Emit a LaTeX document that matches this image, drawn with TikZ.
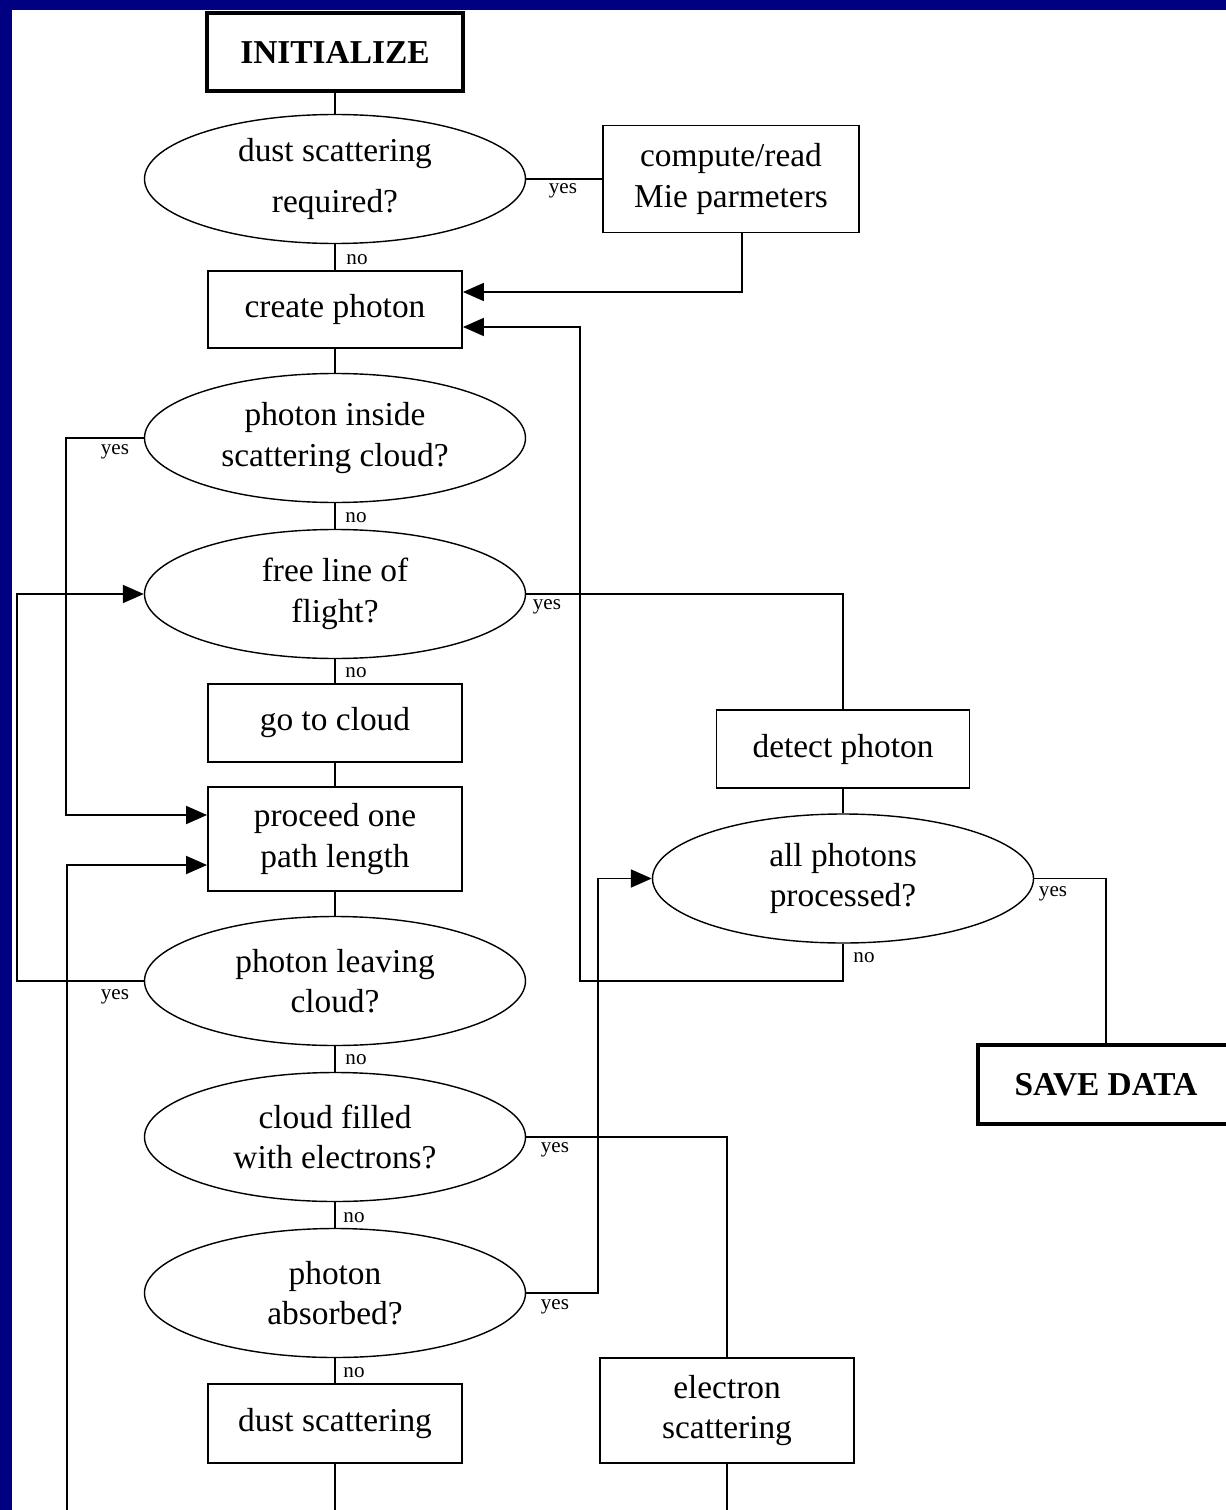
\documentclass[tikz,border=0pt]{standalone}
\usepackage{fontspec}
\setmainfont{Liberation Serif}
\usetikzlibrary{arrows.meta,shapes.geometric}
\definecolor{slideblue}{RGB}{0,0,128}

\begin{document}
\begin{tikzpicture}[x=1cm,y=1cm]
\tikzset{
  stepbox/.style={rectangle,draw=black,line width=1.1pt,minimum width=5.08cm,inner sep=2pt,align=center,font=\fontsize{19}{23}\selectfont},
  endbox/.style={stepbox,line width=2pt,minimum width=5.12cm,minimum height=1.56cm,font=\fontsize{19}{23}\selectfont\bfseries},
  question/.style={ellipse,draw=black,line width=0.8pt,minimum width=7.62cm,minimum height=2.58cm,inner sep=0pt,align=center,font=\fontsize{19}{23}\selectfont},
  answer/.style={font=\fontsize{12}{14}\selectfont,inner sep=0pt},
  flowline/.style={draw=black,line width=1.1pt},
  flowarrow/.style={flowline,-{Triangle[length=4.2mm,width=3.6mm]}}
}
\useasboundingbox (0,0) rectangle (24.52,-30.20);
\fill[slideblue] (0,0) rectangle (24.52,-30.20);
\fill[white] (0.24,-0.20) rectangle (24.52,-30.20);
% main column
\node[endbox] (n_init) at (6.70,-1.04) {INITIALIZE};
\node[question] (n_dust) at (6.70,-3.58) {dust scattering\\[6pt] required?};
\node[stepbox,minimum width=5.12cm,minimum height=2.14cm] (n_mie) at (14.62,-3.58) {compute/read\\ Mie parmeters};
\node[stepbox,minimum height=1.54cm] (n_create) at (6.70,-6.19) {create photon};
\node[question] (n_inside) at (6.70,-8.76) {photon inside\\ scattering cloud?};
\node[question] (n_free) at (6.70,-11.88) {free line of\\ flight?};
\node[stepbox,minimum height=1.56cm] (n_goto) at (6.70,-14.46) {go to cloud};
\node[stepbox,minimum height=2.08cm] (n_proceed) at (6.70,-16.78) {proceed one\\ path length};
\node[question] (n_leave) at (6.70,-19.62) {photon leaving\\ cloud?};
\node[question] (n_electrons) at (6.70,-22.74) {cloud filled\\ with electrons?};
\node[question] (n_absorbed) at (6.70,-25.86) {photon\\ absorbed?};
\node[stepbox,minimum height=1.58cm] (n_dustscat) at (6.70,-28.47) {dust scattering};
% right column
\node[stepbox,minimum height=2.10cm] (n_escat) at (14.54,-28.21) {electron\\ scattering};
\node[stepbox,minimum width=5.06cm,minimum height=1.56cm] (n_detect) at (16.86,-14.98) {detect photon};
\node[question] (n_all) at (16.86,-17.57) {all photons\\ processed?};
\node[endbox,minimum height=1.58cm] (n_save) at (22.12,-21.69) {SAVE DATA};
% free ends and bends
\coordinate (c_back) at (11.60,-19.62);
\coordinate (c_inner) at (1.32,-16.30);
\coordinate (c_outer) at (0.34,-19.62);
\coordinate (c_abs) at (11.96,-25.86);
\coordinate (c_ret) at (1.34,-30.40);
\coordinate (c_dsend) at (6.70,-30.40);
\coordinate (c_esend) at (14.54,-30.40);
% connectors
\draw[flowline] (n_init) -- (n_dust);
\draw[flowline] (n_dust) -- (n_mie);
\draw[flowline] (n_dust) -- (n_create);
\draw[flowarrow] ([xshift=0.22cm]n_mie.south) |- ([yshift=0.35cm]n_create.east);
\draw[flowline] (n_create) -- (n_inside);
\draw[flowline] (n_inside) -- (n_free);
\draw[flowarrow] (n_inside.west) -| (c_inner) |- ([yshift=0.48cm]n_proceed.west);
\draw[flowline] (n_free.east) -| (n_detect.north);
\draw[flowline] (n_free) -- (n_goto);
\draw[flowline] (n_goto) -- (n_proceed);
\draw[flowline] (n_proceed) -- (n_leave);
\draw[flowarrow] (n_leave.west) -- (c_outer) |- (n_free.west);
\draw[flowline] (n_leave) -- (n_electrons);
\draw[flowline] (n_electrons.east) -| (n_escat.north);
\draw[flowline] (n_electrons) -- (n_absorbed);
\draw[flowarrow] (n_absorbed.east) -- (c_abs) |- (n_all.west);
\draw[flowline] (n_absorbed) -- (n_dustscat);
\draw[flowline] (n_dustscat) -- (c_dsend);
\draw[flowline] (n_escat) -- (c_esend);
\draw[flowarrow] (c_ret) |- ([yshift=-0.52cm]n_proceed.west);
\draw[flowline] (n_detect) -- (n_all);
\draw[flowarrow] (n_all.south) |- (c_back) |- ([yshift=-0.35cm]n_create.east);
\draw[flowline] (n_all.east) -| (n_save.north);
% answers
\node[answer] (a_dust_yes) at (11.26,-3.82) {yes};
\node[answer] (a_dust_no) at (7.14,-5.20) {no};
\node[answer] (a_inside_yes) at (2.30,-9.04) {yes};
\node[answer] (a_inside_no) at (7.12,-10.36) {no};
\node[answer] (a_free_yes) at (10.94,-12.14) {yes};
\node[answer] (a_free_no) at (7.12,-13.46) {no};
\node[answer] (a_leave_yes) at (2.30,-19.94) {yes};
\node[answer] (a_leave_no) at (7.12,-21.20) {no};
\node[answer] (a_elec_yes) at (11.10,-23.00) {yes};
\node[answer] (a_elec_no) at (7.08,-24.36) {no};
\node[answer] (a_abs_yes) at (11.10,-26.14) {yes};
\node[answer] (a_abs_no) at (7.08,-27.46) {no};
\node[answer] (a_all_yes) at (21.06,-17.88) {yes};
\node[answer] (a_all_no) at (17.28,-19.16) {no};
\end{tikzpicture}
\end{document}
